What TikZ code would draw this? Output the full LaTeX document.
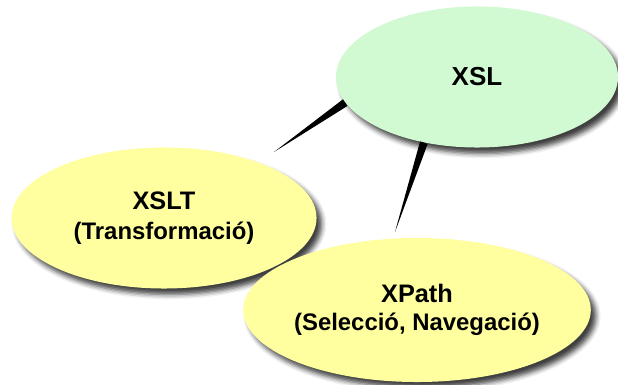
\documentclass[tikz,border=0pt]{standalone}
\usepackage{fontspec}
\setmainfont{Liberation Sans}
\usetikzlibrary{shapes.geometric,shadows.blur,calc}
\definecolor{xslgreen}{RGB}{210,250,210}
\definecolor{xslyellow}{RGB}{255,255,160}

\begin{document}
\begin{tikzpicture}[x=0.025cm, y=-0.025cm, bubble/.style={ellipse, inner sep=0pt, align=center, font=\bfseries, blur shadow={shadow xshift=1.3mm, shadow yshift=-1.5mm, shadow blur radius=1.2mm, shadow opacity=75}}, main/.style={bubble, fill=xslgreen, minimum width=7.05cm, minimum height=3.525cm}, sub/.style={bubble, fill=xslyellow}, wedge/.style={fill=black}]
\useasboundingbox (0,0) rectangle (618,385);
\node[main] (xsl) at (477,77) {\fontsize{18.5}{22}\selectfont XSL};
\node[sub, minimum width=7.625cm, minimum height=3.525cm] (xslt) at (164,218) {\fontsize{18}{22}\selectfont XSLT\\[8pt]\fontsize{17}{20}\selectfont (Transformació)};
\node[sub, minimum width=8.25cm, minimum height=3.6cm] (xpath) at (417,310) {\fontsize{18}{22}\selectfont XPath\\[6pt]\fontsize{17}{20}\selectfont (Selecció, Navegació)};
\coordinate (t1) at (274,152); \coordinate (t2) at (395,232);
\fill[wedge] ($(xsl.191)!1mm!90:(t1)$) -- ($(xsl.191)!1mm!-90:(t1)$) -- (t1) -- cycle;
\fill[wedge] ($(xsl.231)!1mm!90:(t2)$) -- ($(xsl.231)!1mm!-90:(t2)$) -- (t2) -- cycle;
\end{tikzpicture}
\end{document}
